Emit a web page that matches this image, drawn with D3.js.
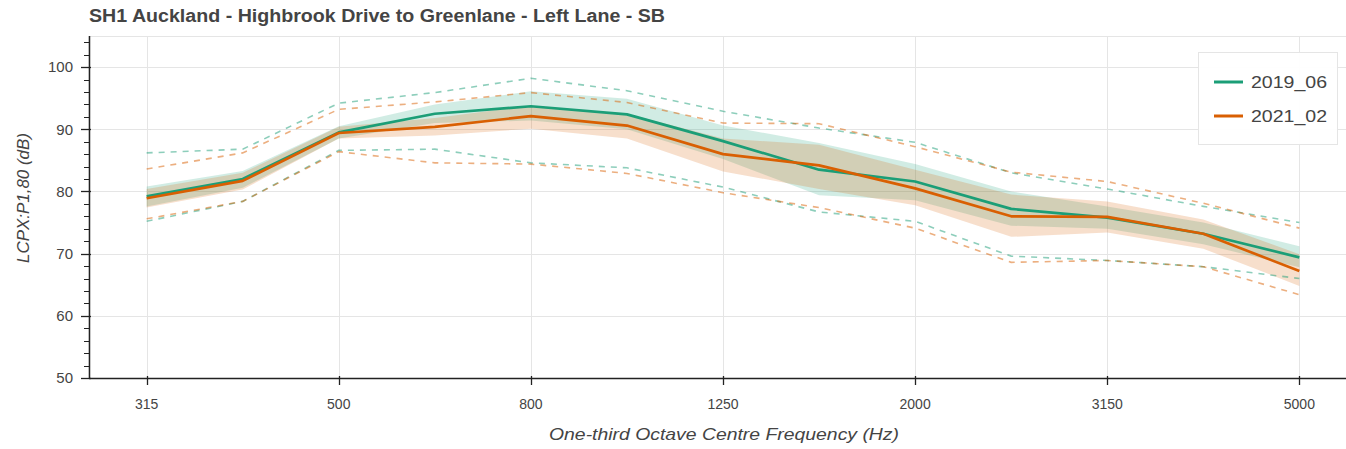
<!DOCTYPE html>
<html>
<head>
<meta charset="utf-8">
<script src="https://cdn.jsdelivr.net/npm/d3@7"></script>
<style>
  html, body { margin: 0; padding: 0; background: #fff; }
  svg { display: block; }
</style>
</head>
<body>
<svg id="chart" width="1346" height="449"></svg>
<script>
// ---------- data ----------
const categories = ["315","400","500","630","800","1000","1250","1600","2000","2500","3150","4000","5000"];
const tickLabels = ["315","500","800","1250","2000","3150","5000"];
const yTicks = [50, 60, 70, 80, 90, 100];

const seriesNames = ["2019_06", "2021_02"];

const mean2019 = [79.2, 82.0, 89.5, 92.5, 93.7, 92.4, 88.1, 83.5, 81.6, 77.2, 75.8, 73.2, 69.4];
const bandHi2019 = [80.8, 83.3, 90.5, 94.0, 96.1, 94.9, 90.6, 87.8, 84.4, 80.0, 77.6, 75.0, 71.2];
const bandLo2019 = [77.6, 80.6, 88.5, 91.0, 91.4, 90.0, 85.2, 79.4, 78.6, 74.5, 74.0, 71.5, 67.8];
const max2019 = [86.2, 86.8, 94.2, 95.9, 98.2, 96.2, 92.9, 90.2, 87.9, 83.0, 80.4, 77.6, 75.0];
const min2019 = [75.2, 78.4, 86.6, 86.8, 84.6, 83.8, 80.7, 76.7, 75.2, 69.6, 68.9, 67.9, 66.0];

const mean2021 = [78.9, 81.7, 89.4, 90.4, 92.1, 90.6, 86.0, 84.2, 80.5, 76.0, 75.9, 73.2, 67.2];
const bandHi2021 = [80.4, 83.0, 90.4, 91.8, 93.8, 92.5, 88.5, 87.5, 83.5, 79.5, 78.4, 75.5, 69.9];
const bandLo2021 = [77.4, 80.3, 88.5, 89.0, 90.1, 88.5, 83.2, 80.4, 77.8, 72.7, 73.4, 70.8, 64.8];
const max2021 = [83.6, 86.2, 93.2, 94.4, 95.9, 94.3, 91.0, 90.9, 87.2, 83.1, 81.6, 78.1, 74.1];
const min2021 = [75.6, 78.4, 86.4, 84.6, 84.4, 82.9, 79.8, 77.4, 74.1, 68.6, 68.9, 67.9, 63.4];

const colors = ["#1b9e77", "#d95f02"];

// ---------- layout ----------
const pLeft = 89, pTop = 36, pBottom = 378, pRight = 1357;

const svg = d3.select("#chart");

const x = d3.scaleLinear().domain([-0.6, categories.length - 1 + 0.6]).range([pLeft, pRight]);
const y = d3.scaleLinear().domain([50, 105]).range([pBottom, pTop]);
const idx = c => categories.indexOf(c);

// plot outline
svg.append("rect")
  .attr("x", pLeft).attr("y", pTop + 0.5)
  .attr("width", pRight - pLeft).attr("height", pBottom - pTop)
  .attr("fill", "none").attr("stroke", "#e5e5e5").attr("stroke-width", 1);

// grid
const grid = svg.append("g");
grid.selectAll("line.h").data(yTicks.filter(d => d > 50)).join("line")
  .attr("x1", pLeft).attr("x2", pRight)
  .attr("y1", d => Math.round(y(d)) + 0.5).attr("y2", d => Math.round(y(d)) + 0.5)
  .attr("stroke", "#e5e5e5").attr("stroke-width", 1);
grid.selectAll("line.v").data(tickLabels).join("line")
  .attr("y1", pTop).attr("y2", pBottom)
  .attr("x1", d => Math.round(x(idx(d))) + 0.5).attr("x2", d => Math.round(x(idx(d))) + 0.5)
  .attr("stroke", "#e5e5e5").attr("stroke-width", 1);

// series
const series = [
  { name: seriesNames[0], mean: mean2019, hi: bandHi2019, lo: bandLo2019, max: max2019, min: min2019, color: colors[0] },
  { name: seriesNames[1], mean: mean2021, hi: bandHi2021, lo: bandLo2021, max: max2021, min: min2021, color: colors[1] }
];

const area = d3.area()
  .x((d, i) => x(i))
  .y0(d => y(d[0]))
  .y1(d => y(d[1]));
const line = d3.line().x((d, i) => x(i)).y(d => y(d));

const plot = svg.append("g");
series.forEach(s => {
  plot.append("path")
    .attr("d", area(s.lo.map((v, i) => [v, s.hi[i]])))
    .attr("fill", s.color).attr("fill-opacity", 0.2).attr("stroke", "none");
});
series.forEach(s => {
  [s.max, s.min].forEach(arr => {
    plot.append("path")
      .attr("d", line(arr))
      .attr("fill", "none").attr("stroke", s.color).attr("stroke-opacity", 0.5)
      .attr("stroke-width", 1.6).attr("stroke-dasharray", "6,6");
  });
});
series.forEach(s => {
  plot.append("path")
    .attr("d", line(s.mean))
    .attr("fill", "none").attr("stroke", s.color)
    .attr("stroke-width", 2.7).attr("stroke-linejoin", "round");
});

// axes
const fontFam = "'Liberation Sans', Arial, Helvetica, sans-serif";
const yAxis = svg.append("g").attr("transform", `translate(${pLeft},0)`);
yAxis.selectAll("line.minor").data(d3.range(50, 105.01, 2)).join("line")
  .attr("x1", -5).attr("x2", 0)
  .attr("y1", d => Math.round(y(d)) + 0.5).attr("y2", d => Math.round(y(d)) + 0.5)
  .attr("stroke", "#222").attr("stroke-width", 1);
yAxis.selectAll("line.major").data(yTicks).join("line")
  .attr("x1", -8).attr("x2", 2)
  .attr("y1", d => Math.round(y(d)) + 0.5).attr("y2", d => Math.round(y(d)) + 0.5)
  .attr("stroke", "#222").attr("stroke-width", 1.3);
yAxis.append("line").attr("x1", 0.5).attr("x2", 0.5).attr("y1", pTop).attr("y2", pBottom + 1)
  .attr("stroke", "#222").attr("stroke-width", 1.5);
yAxis.selectAll("text").data(yTicks).join("text")
  .attr("x", -16).attr("y", d => y(d)).attr("dy", "0.36em")
  .attr("text-anchor", "end").attr("font-family", fontFam).attr("font-size", 15)
  .attr("fill", "#444").text(d => d);

const xAxis = svg.append("g");
xAxis.append("line").attr("x1", pLeft).attr("x2", pRight).attr("y1", pBottom + 0.5).attr("y2", pBottom + 0.5)
  .attr("stroke", "#222").attr("stroke-width", 1.5);
xAxis.selectAll("line.tick").data(tickLabels).join("line")
  .attr("x1", d => Math.round(x(idx(d))) + 0.5).attr("x2", d => Math.round(x(idx(d))) + 0.5)
  .attr("y1", pBottom - 2).attr("y2", pBottom + 7)
  .attr("stroke", "#222").attr("stroke-width", 1.3);
xAxis.selectAll("text").data(tickLabels).join("text")
  .attr("x", d => x(idx(d))).attr("y", 409)
  .attr("text-anchor", "middle").attr("font-family", fontFam).attr("font-size", 14)
  .attr("fill", "#444").text(d => d);

// axis labels
svg.append("text")
  .attr("x", 724).attr("y", 440)
  .attr("text-anchor", "middle").attr("font-family", fontFam).attr("font-size", 17)
  .attr("font-style", "italic").attr("fill", "#444")
  .attr("textLength", 350).attr("lengthAdjust", "spacingAndGlyphs")
  .text("One-third Octave Centre Frequency (Hz)");
svg.append("text")
  .attr("transform", `translate(29,198) rotate(-90)`)
  .attr("text-anchor", "middle").attr("font-family", fontFam).attr("font-size", 17)
  .attr("font-style", "italic").attr("fill", "#444")
  .attr("textLength", 130).attr("lengthAdjust", "spacingAndGlyphs")
  .text("LCPX:P1,80 (dB)");

// title
svg.append("text")
  .attr("x", 89).attr("y", 22)
  .attr("font-family", fontFam).attr("font-size", 18).attr("font-weight", "bold")
  .attr("fill", "#444")
  .attr("textLength", 576).attr("lengthAdjust", "spacingAndGlyphs")
  .text("SH1 Auckland - Highbrook Drive to Greenlane - Left Lane - SB");

// legend
const lg = svg.append("g");
lg.append("rect").attr("x", 1198.5).attr("y", 52.5).attr("width", 139).attr("height", 92)
  .attr("fill", "#fff").attr("fill-opacity", 0.95).attr("stroke", "#e5e5e5").attr("stroke-width", 1);
series.forEach((s, i) => {
  const ly = 82 + i * 34;
  lg.append("line").attr("x1", 1214).attr("x2", 1243).attr("y1", ly).attr("y2", ly)
    .attr("stroke", s.color).attr("stroke-width", 3);
  lg.append("text").attr("x", 1251).attr("y", ly).attr("dy", "0.36em")
    .attr("font-family", fontFam).attr("font-size", 17).attr("fill", "#444")
    .attr("textLength", 76).attr("lengthAdjust", "spacingAndGlyphs")
    .text(s.name);
});
</script>
</body>
</html>
